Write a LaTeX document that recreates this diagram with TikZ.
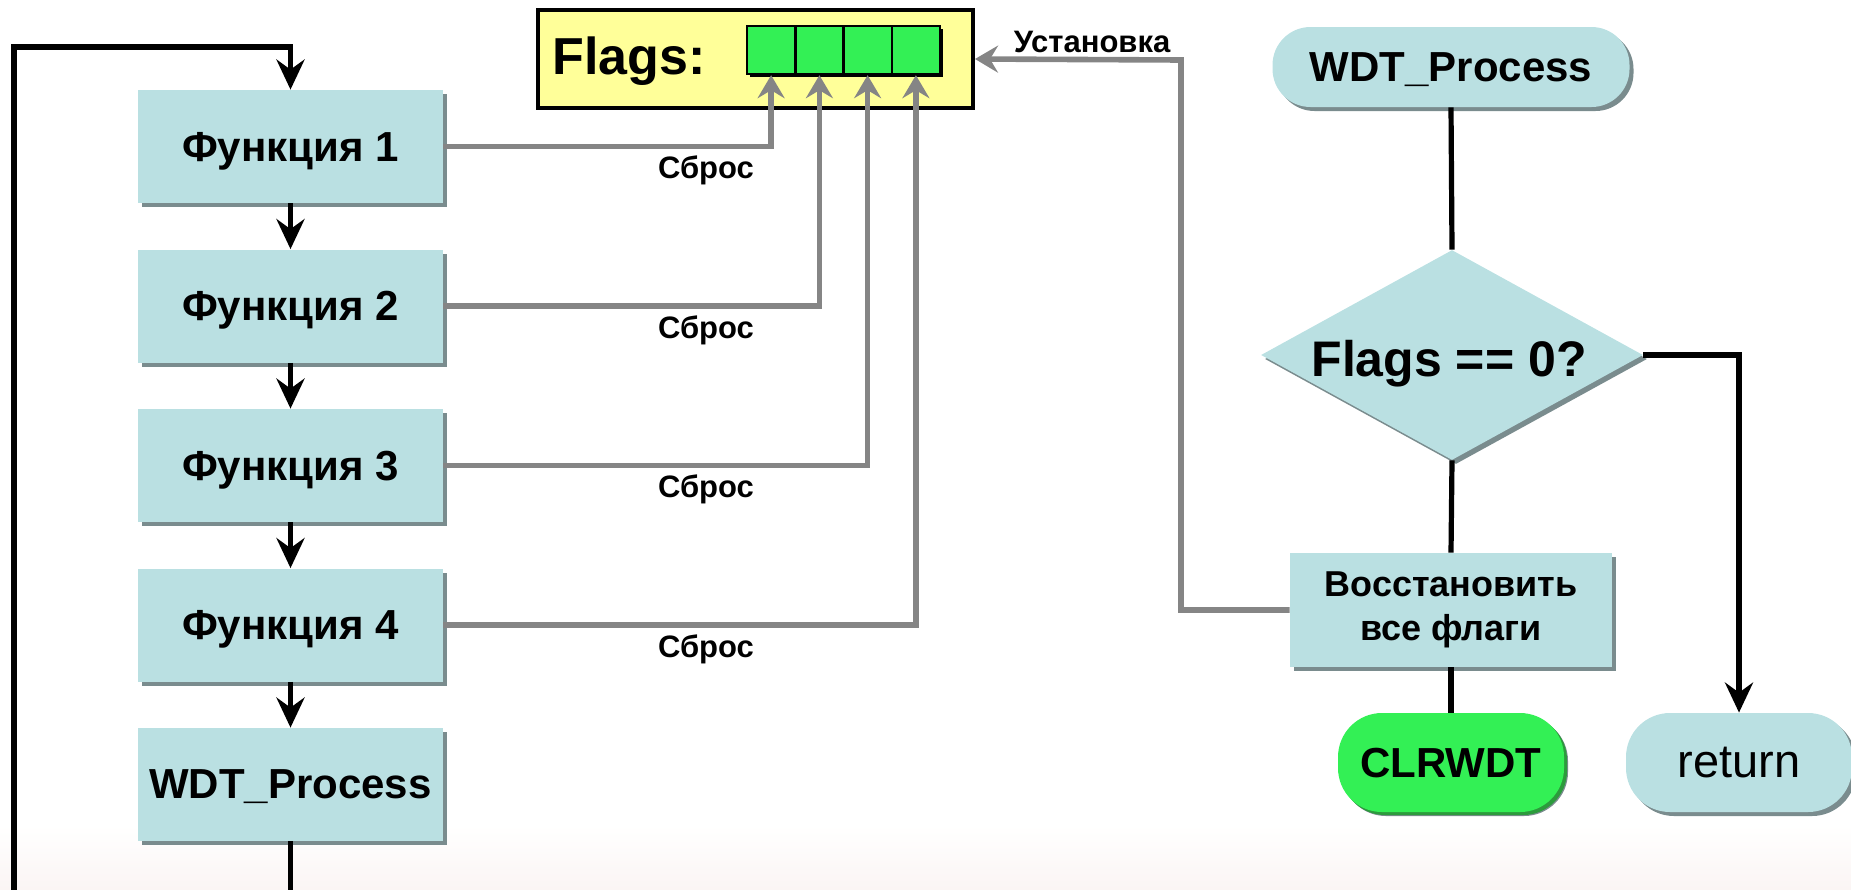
\documentclass[tikz,border=0pt]{standalone}
\usepackage{fontspec}
\setmainfont{Liberation Sans}
\usetikzlibrary{arrows.meta,shapes.geometric,shadows}

\definecolor{boxfill}{HTML}{BAE0E2}
\definecolor{shgray}{HTML}{7A8C8E}
\definecolor{flaggreen}{HTML}{33F055}
\definecolor{greensh}{HTML}{2C9B3C}
\definecolor{flagyellow}{HTML}{FFFF99}
\definecolor{lgray}{HTML}{858585}
\definecolor{bgband}{HTML}{FBF5F4}

\begin{document}
\begin{tikzpicture}[x=0.5pt,y=-0.5pt,
  blk/.style={line width=2.6pt, black},
  blkarr/.style={blk, -{Stealth[length=15pt,width=14pt,inset=5pt]}},
  gry/.style={line width=2.8pt, lgray, -{Stealth[length=11.5pt,width=13.5pt,inset=4pt]}},
  shd/.style={drop shadow={shadow xshift=2pt,shadow yshift=-2pt,fill=shgray,opacity=1}},
  fbox/.style={rectangle, fill=boxfill, inner sep=0pt, minimum width=152.5pt, minimum height=56.5pt,
    text depth=0pt, font=\fontsize{21}{25}\selectfont\bfseries, shd},
  term/.style={rectangle, rounded corners=19pt, fill=boxfill, inner sep=0pt, text depth=0pt, shd},
  cell/.style={rectangle, draw=black, line width=1.2pt, fill=flaggreen, inner sep=0pt,
    minimum width=24.1pt, minimum height=24pt},
  lbl/.style={font=\fontsize{15.5}{18}\selectfont\bfseries, inner sep=0pt},
]
\useasboundingbox (0,0) rectangle (1851,889);
\shade[top color=white, bottom color=bgband] (0,825) rectangle (1851,889);

% left column
\node[fbox] (f1) at (290.5,146.5) {Функция 1};
\node[fbox] (f2) at (290.5,306) {Функция 2};
\node[fbox] (f3) at (290.5,465.5) {Функция 3};
\node[fbox] (f4) at (290.5,625) {Функция 4};
\node[fbox] (w) at (290.5,784.5) {WDT\_Process};

\draw[blkarr] (f1.south) -- (f2.north);
\draw[blkarr] (f2.south) -- (f3.north);
\draw[blkarr] (f3.south) -- (f4.north);
\draw[blkarr] (f4.south) -- (w.north);

\coordinate (lb) at (290.5,905);
\coordinate (lt) at (14,47);
\draw[blkarr] (w.south) -- (lb) -| (lt) -| (f1.north);

% flags register
\node[draw=black, line width=2pt, fill=flagyellow, inner sep=0pt,
  minimum width=217.5pt, minimum height=49pt] (fb) at (755.5,59) {};
\node[anchor=base west, inner sep=0pt, font=\fontsize{26}{30}\selectfont\bfseries] (fl) at (552,74) {Flags:};
\fill[black] (750,29) rectangle (943,77);
\node[cell] (c1) at (771.1,50) {};
\node[cell] (c2) at (819.4,50) {};
\node[cell] (c3) at (867.6,50) {};
\node[cell] (c4) at (915.9,50) {};

\draw[gry] (f1.east) -| (c1.south);
\draw[gry] (f2.east) -| (c2.south);
\draw[gry] (f3.east) -| (c3.south);
\draw[gry] (f4.east) -| (c4.south);

\node[lbl] (s1) at (706,170) {Сброс};
\node[lbl] (s2) at (706,330) {Сброс};
\node[lbl] (s3) at (706,489) {Сброс};
\node[lbl] (s4) at (706,649) {Сброс};

% right flowchart
\node[term, minimum width=178.5pt, minimum height=40pt,
  font=\fontsize{21}{25}\selectfont\bfseries] (wp) at (1451,67) {WDT\_Process};
\node[diamond, fill=boxfill, inner sep=0pt, minimum width=191pt, minimum height=105pt, shd] (d) at (1452,355) {};
\node[inner sep=0pt, text depth=0pt, font=\fontsize{25}{30}\selectfont\bfseries] (dt) at (1449,358) {Flags == 0?};
\node[rectangle, fill=boxfill, inner sep=0pt, minimum width=161pt, minimum height=57pt, shd,
  align=center, font=\fontsize{18}{22}\selectfont\bfseries] (rb) at (1451,610) {Восстановить\\все флаги};
\node[term, rounded corners=22pt, fill=flaggreen, minimum width=113pt, minimum height=49.5pt,
  drop shadow={shadow xshift=1.5pt,shadow yshift=-1.5pt,fill=greensh,opacity=1},
  font=\fontsize{21}{25}\selectfont\bfseries] (clr) at (1451,762.5) {CLRWDT};
\node[term, rounded corners=22pt, minimum width=113pt, minimum height=49.5pt,
  font=\fontsize{23.5}{28}\selectfont] (ret) at (1739,762.5) {return};

\draw[blk] (wp.south) -- (d.north);
\draw[blk] (d.south) -- (rb.north);
\draw[blk] (rb.south) -- (clr.north);
\draw[blkarr] (d.east) -| (ret.north);

\coordinate (ust) at (1181,60);
\draw[gry] (rb.west) -| (ust) -- (fb.east);
\node[lbl] (ul) at (1092,42) {Установка};
\end{tikzpicture}
\end{document}
